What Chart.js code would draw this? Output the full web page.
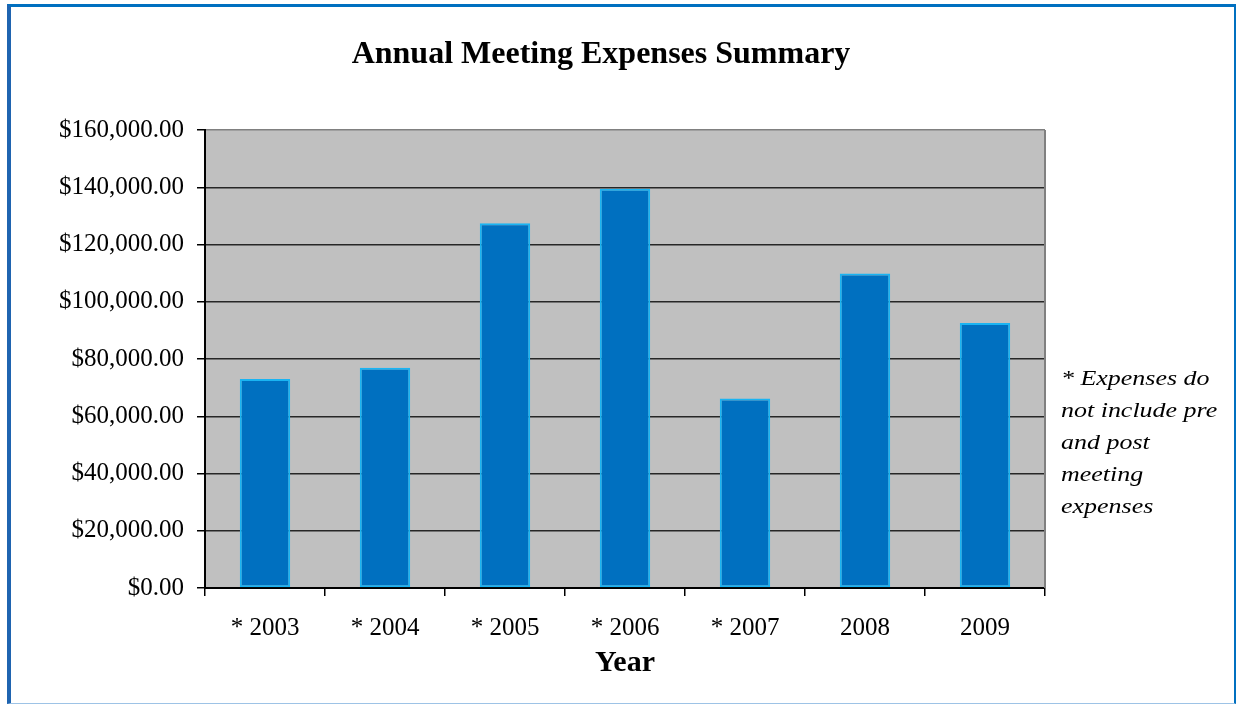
<!DOCTYPE html>
<html>
<head>
<meta charset="utf-8">
<script src="https://cdn.jsdelivr.net/npm/chart.js@4"></script>
<style>
  html, body { margin: 0; padding: 0; background: #fff; }
  #wrap { position: relative; width: 1237px; height: 704px; overflow: hidden; }
  #frame {
    position: absolute; left: 7px; top: 4px; right: 1px; bottom: 0;
    border-left: 4px solid #1f64b0; border-top: 3px solid #0070c0;
    border-right: 2px solid #0070c0; border-bottom: 1px solid #9dc3e6;
  }
  #chart { position: absolute; left: 0; top: 0; }
  #title {
    position: absolute; left: 0; width: 1202px; top: 34px; text-align: center;
    font: bold 32px/37px "Liberation Serif", serif; color: #000;
  }
  #note {
    position: absolute; left: 1061px; top: 362px;
    font: italic 22px/32px "Liberation Serif", serif; color: #000;
    transform-origin: left top; transform: scaleX(1.18);
  }
</style>
</head>
<body>
<div id="wrap">
  <div id="frame"></div>
  <canvas id="chart" width="1237" height="704"></canvas>
  <div id="title">Annual Meeting Expenses Summary</div>
  <div id="note">* Expenses do<br>not include pre<br>and post<br>meeting<br>expenses</div>
</div>
<script>
// Dados do gráfico
const years = ['* 2003', '* 2004', '* 2005', '* 2006', '* 2007', '2008', '2009'];
const expenses = [73000, 76900, 127400, 139500, 66200, 109900, 92600];
const yTicks = [0, 20000, 40000, 60000, 80000, 100000, 120000, 140000, 160000];

// Fundo cinza da área do gráfico + borda direita
const plotBackground = {
  id: 'plotBackground',
  beforeDraw(chart) {
    const { ctx, chartArea: a } = chart;
    ctx.save();
    ctx.fillStyle = '#c0c0c0';
    ctx.fillRect(a.left, a.top, a.right - a.left, a.bottom - a.top);
    ctx.restore();
  },
  afterDatasetsDraw(chart) {
    const { ctx, chartArea: a } = chart;
    ctx.save();
    ctx.strokeStyle = '#808080';
    ctx.lineWidth = 2;
    ctx.beginPath();
    ctx.moveTo(a.right, a.top);
    ctx.lineTo(a.right, a.bottom);
    ctx.stroke();
    ctx.restore();
  }
};

const ctx = document.getElementById('chart').getContext('2d');
new Chart(ctx, {
  type: 'bar',
  data: {
    labels: years,
    datasets: [{
      label: 'Expenses',
      data: expenses,
      backgroundColor: '#0070c0',
      borderColor: '#1ab4f2',
      borderWidth: 2,
      borderSkipped: false,
      barPercentage: 0.42,
      categoryPercentage: 1
    }]
  },
  options: {
    responsive: false,
    devicePixelRatio: 1,
    animation: false,
    layout: { padding: { left: 10, right: 192, top: 130, bottom: 10 } },
    plugins: { legend: { display: false }, title: { display: false }, tooltip: { enabled: false } },
    scales: {
      y: {
        min: 0,
        max: 160000,
        afterFit(scale) { scale.width = 195; },
        afterBuildTicks(scale) { scale.ticks = yTicks.map(v => ({ value: v })); },
        ticks: {
          padding: 13,
          color: '#000',
          font: { family: 'Liberation Serif', size: 25 },
          callback: v => '$' + Number(v).toLocaleString('en-US', { minimumFractionDigits: 2, maximumFractionDigits: 2 })
        },
        grid: {
          color: c => (c.tick && c.tick.value === 160000) ? '#808080' : '#262626',
          lineWidth: 1.5,
          tickLength: 8,
          tickColor: '#000'
        },
        border: { color: '#000', width: 2 }
      },
      x: {
        afterFit(scale) { scale.height = 106; },
        ticks: {
          padding: 17,
          color: '#000',
          font: { family: 'Liberation Serif', size: 25 }
        },
        grid: {
          offset: true,
          drawOnChartArea: false,
          tickLength: 8,
          tickColor: '#000',
          lineWidth: 1.5
        },
        border: { color: '#000', width: 2 },
        title: {
          display: true,
          text: 'Year',
          color: '#000',
          font: { family: 'Liberation Serif', size: 30, weight: 'bold' },
          padding: { top: 0, bottom: 13 }
        }
      }
    }
  },
  plugins: [plotBackground]
});
</script>
</body>
</html>
